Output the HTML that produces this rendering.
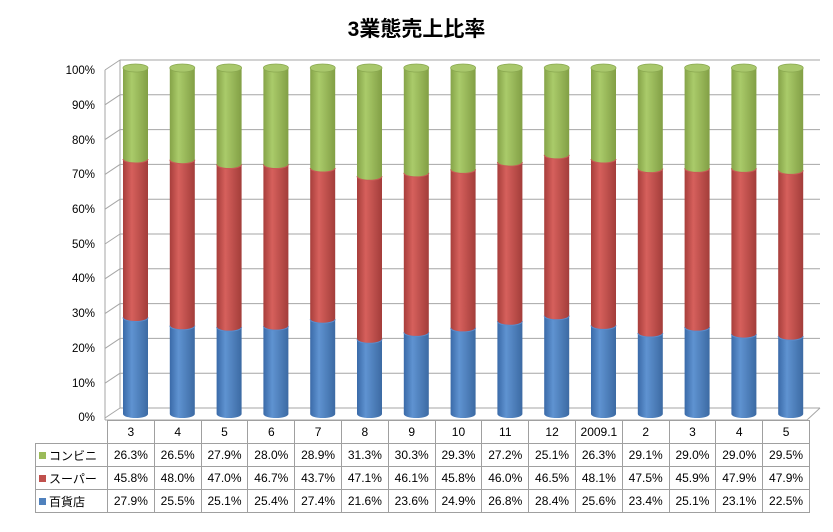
<!DOCTYPE html>
<html><head><meta charset="utf-8">
<style>
body{margin:0;background:#fff;}
#wrap{position:relative;width:833px;height:532px;overflow:hidden;font-family:"Liberation Sans","Noto Sans CJK JP",sans-serif;}
#title{position:absolute;left:0;width:833px;top:13px;text-align:center;font-size:21px;font-weight:bold;color:#000;}
.yl{position:absolute;left:40px;width:55px;text-align:right;font-size:11.5px;color:#000;}
table{position:absolute;left:35px;top:420px;border-collapse:collapse;font-size:12px;}
td{border:1px solid #a0a0a0;height:22px;padding:0;text-align:center;width:45.8px;}
td.h{width:68px;text-align:left;padding-left:3px;}
td.e{border:none;border-right:1px solid #a0a0a0;}
.sq{display:inline-block;width:7px;height:7px;margin-right:3px;vertical-align:1px;}
</style></head><body>
<div id="wrap">
<div id="title">3業態売上比率</div>
<svg id="s" width="833" height="532" style="position:absolute;left:0;top:0">
<defs>
<linearGradient id="gb" x1="0" x2="1"><stop offset="0" stop-color="#3a6aa8"/><stop offset="0.35" stop-color="#5f93d1"/><stop offset="1" stop-color="#3c6aa3"/></linearGradient>
<linearGradient id="gr" x1="0" x2="1"><stop offset="0" stop-color="#a73e3b"/><stop offset="0.35" stop-color="#d6605c"/><stop offset="1" stop-color="#a33d3a"/></linearGradient>
<linearGradient id="gg" x1="0" x2="1"><stop offset="0" stop-color="#85a348"/><stop offset="0.35" stop-color="#aacb6a"/><stop offset="1" stop-color="#829f45"/></linearGradient>
</defs>
<g id="grid" stroke="#a6a6a6" stroke-width="1" fill="none"></g>
<g id="cyl"></g>
</svg>
<div class="yl" style="top:65px">100%</div>
<div class="yl" style="top:100px">90%</div>
<div class="yl" style="top:135px">80%</div>
<div class="yl" style="top:169px">70%</div>
<div class="yl" style="top:204px">60%</div>
<div class="yl" style="top:239px">50%</div>
<div class="yl" style="top:273px">40%</div>
<div class="yl" style="top:308px">30%</div>
<div class="yl" style="top:343px">20%</div>
<div class="yl" style="top:378px">10%</div>
<div class="yl" style="top:412px">0%</div>
<table>
<tr><td class="h e"></td><td>3</td><td>4</td><td>5</td><td>6</td><td>7</td><td>8</td><td>9</td><td>10</td><td>11</td><td>12</td><td>2009.1</td><td>2</td><td>3</td><td>4</td><td>5</td></tr>
<tr><td class="h"><span class="sq" style="background:#9bbb59"></span>コンビニ</td><td>26.3%</td><td>26.5%</td><td>27.9%</td><td>28.0%</td><td>28.9%</td><td>31.3%</td><td>30.3%</td><td>29.3%</td><td>27.2%</td><td>25.1%</td><td>26.3%</td><td>29.1%</td><td>29.0%</td><td>29.0%</td><td>29.5%</td></tr>
<tr><td class="h"><span class="sq" style="background:#c0504d"></span>スーパー</td><td>45.8%</td><td>48.0%</td><td>47.0%</td><td>46.7%</td><td>43.7%</td><td>47.1%</td><td>46.1%</td><td>45.8%</td><td>46.0%</td><td>46.5%</td><td>48.1%</td><td>47.5%</td><td>45.9%</td><td>47.9%</td><td>47.9%</td></tr>
<tr><td class="h"><span class="sq" style="background:#4f81bd"></span>百貨店</td><td>27.9%</td><td>25.5%</td><td>25.1%</td><td>25.4%</td><td>27.4%</td><td>21.6%</td><td>23.6%</td><td>24.9%</td><td>26.8%</td><td>28.4%</td><td>25.6%</td><td>23.4%</td><td>25.1%</td><td>23.1%</td><td>22.5%</td></tr>
</table>
</div>
<script>
var NS="http://www.w3.org/2000/svg";
function el(p,t,a){var e=document.createElementNS(NS,t);for(var k in a)e.setAttribute(k,a[k]);p.appendChild(e);return e;}
var g=document.getElementById("grid");
for(var i=0;i<=10;i++){var yb=60+i*34.8, yf=yb+10;
 el(g,"line",{x1:105,y1:yf,x2:120,y2:yb});
 el(g,"line",{x1:120,y1:yb,x2:820,y2:yb});}
el(g,"line",{x1:120,y1:60,x2:120,y2:408});
el(g,"line",{x1:105,y1:70,x2:105,y2:420});
el(g,"line",{x1:105,y1:420,x2:807,y2:420});
el(g,"line",{x1:807,y1:420,x2:820,y2:408});
var b=[27.9,25.5,25.1,25.4,27.4,21.6,23.6,24.9,26.8,28.4,25.6,23.4,25.1,23.1,22.5];
var r=[45.8,48.0,47.0,46.7,43.7,47.1,46.1,45.8,46.0,46.5,48.1,47.5,45.9,47.9,47.9];
var c=document.getElementById("cyl");
var bot=414, sc=3.46, rx=12.5, ry=4;
for(var i=0;i<15;i++){
 var cx=105+46.8*i+30.5;
 var vals=[b[i],r[i],100-b[i]-r[i]], fills=["url(#gb)","url(#gr)","url(#gg)"];
 var y0=bot;
 for(var k=0;k<3;k++){
  var y1=y0-vals[k]*sc;
  el(c,"path",{d:"M"+(cx-rx)+","+y1+" L"+(cx-rx)+","+y0+" A"+rx+","+ry+" 0 0 0 "+(cx+rx)+","+y0+" L"+(cx+rx)+","+y1+" Z",fill:fills[k]});
  y0=y1;
 }
 el(c,"ellipse",{cx:cx,cy:y0,rx:rx,ry:ry,fill:"#a9c86c",stroke:"#8aa850","stroke-width":0.8});
 var yb=bot-b[i]*sc, yr=yb-r[i]*sc;
 el(c,"path",{d:"M"+(cx-rx)+","+yb+" A"+rx+","+ry+" 0 0 0 "+(cx+rx)+","+yb,fill:"none",stroke:"#5a8ccc","stroke-width":1});
 el(c,"path",{d:"M"+(cx-rx)+","+yr+" A"+rx+","+ry+" 0 0 0 "+(cx+rx)+","+yr,fill:"none",stroke:"#c95a56","stroke-width":1});
}
</script>
</body></html>
